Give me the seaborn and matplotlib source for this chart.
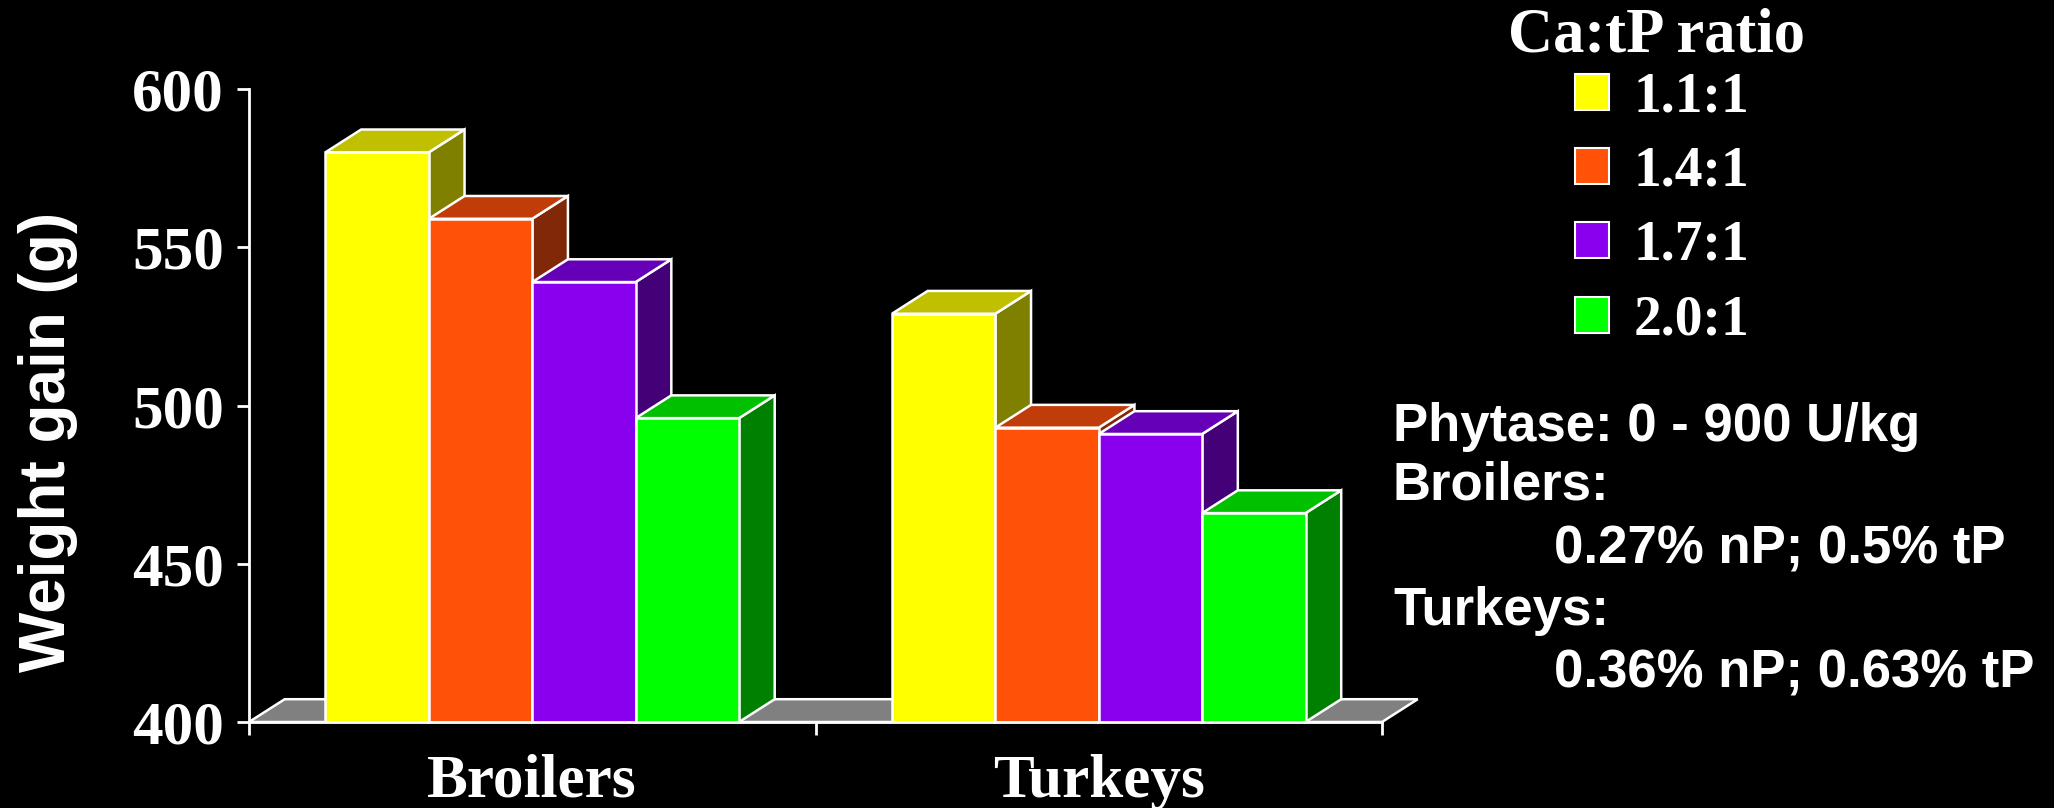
import matplotlib
matplotlib.use("Agg")
import matplotlib.pyplot as plt
import seaborn as sns
import pandas as pd
from matplotlib.patches import Polygon, Patch

# data
groups = ["Broilers", "Turkeys"]
ratios = ["1.1:1", "1.4:1", "1.7:1", "2.0:1"]
broilers_gain = [580, 559, 539, 496]
turkeys_gain = [529, 493, 491, 466]

front_colors = ["#FFFF00", "#FF5208", "#8800EE", "#00FF00"]
top_colors = ["#C0C000", "#C03C08", "#6600B8", "#00C000"]
side_colors = ["#808000", "#802808", "#440077", "#008000"]

notes = [
    ("Phytase: 0 - 900 U/kg", 0),
    ("Broilers:", 0),
    ("0.27% nP; 0.5% tP", 1),
    ("Turkeys:", 0),
    ("0.36% nP; 0.63% tP", 1),
]

df = pd.DataFrame({
    "group": [g for g in groups for _ in ratios],
    "ratio": ratios * len(groups),
    "gain": broilers_gain + turkeys_gain,
})

sns.set_style("dark")
plt.rcParams["font.family"] = ["Liberation Serif", "DejaVu Serif"]

fig = plt.figure(figsize=(20.54, 8.08), dpi=100, facecolor="black")
ax = fig.add_axes([249 / 2054, 86 / 808, 1133 / 2054, 633 / 808])
ax.set_facecolor("black")

sns.barplot(data=df, x="group", y="gain", hue="ratio", palette=front_colors,
            width=0.73, edgecolor="white", linewidth=1.8, legend=False,
            saturation=1, ax=ax)

ax.set_xlim(-0.5, 1.5)
ax.set_ylim(400, 600)

# fake 3D depth (data units)
dx, dy = 0.063, 7.2
ymin = 400

bars = sorted(ax.patches, key=lambda p: p.get_x())

floor = Polygon([(-0.5, ymin), (-0.5 + dx, ymin + dy), (1.5 + dx, ymin + dy), (1.5, ymin)],
                closed=True, facecolor="#808080", edgecolor="white", lw=1.8,
                zorder=1, clip_on=False)
ax.add_patch(floor)

for k, bar in enumerate(bars):
    x0, w, h = bar.get_x(), bar.get_width(), bar.get_height()
    ci = k % len(ratios)
    side = Polygon([(x0 + w, ymin), (x0 + w + dx, ymin + dy), (x0 + w + dx, h + dy), (x0 + w, h)],
                   closed=True, facecolor=side_colors[ci], edgecolor="white", lw=1.8,
                   zorder=2 + 2 * k, clip_on=False)
    top = Polygon([(x0, h), (x0 + dx, h + dy), (x0 + w + dx, h + dy), (x0 + w, h)],
                  closed=True, facecolor=top_colors[ci], edgecolor="white", lw=1.8,
                  zorder=2 + 2 * k, clip_on=False)
    ax.add_patch(side)
    ax.add_patch(top)
    bar.set_zorder(3 + 2 * k)

for s in ["top", "right"]:
    ax.spines[s].set_visible(False)
for s in ["left", "bottom"]:
    ax.spines[s].set_color("white")
    ax.spines[s].set_linewidth(2)
    ax.spines[s].set_zorder(50)

ax.set_yticks([400, 450, 500, 550, 600])
ax.tick_params(axis="y", colors="white", length=9, width=2, pad=9,
               labelsize=44, direction="out", left=True)
for t in ax.get_yticklabels():
    t.set_fontweight("bold")

ax.set_xticks([0, 1])
ax.set_xticklabels(groups, fontsize=44, fontweight="bold", color="white")
ax.tick_params(axis="x", length=0, pad=23, bottom=True)
ax.set_xticks([-0.5, 0.5, 1.5], minor=True)
ax.tick_params(axis="x", which="minor", length=9, width=2, colors="white", bottom=True)

ax.set_xlabel("")
ax.set_ylabel("Weight gain (g)", fontsize=46, fontweight="bold", color="white",
              family=["Liberation Sans", "DejaVu Sans"])
ax.yaxis.label.set_va("center")
ax.yaxis.set_label_coords(-0.177, 0.442)
ax.grid(False)

# legend title as separate text so the rows can sit closer to it
fig.text(1657 / 2054, 1 - 51 / 808, "Ca:tP ratio", color="white", fontsize=45,
         fontweight="bold", ha="center", va="baseline")
handles = [Patch(facecolor=c, edgecolor="white", lw=1.5) for c in front_colors]
leg = fig.legend(handles, ratios, loc="upper left",
                 bbox_to_anchor=(1569 / 2054, 1 - 66 / 808), frameon=False,
                 prop={"family": ["Liberation Serif"], "weight": "bold", "size": 40},
                 handlelength=0.62, handleheight=0.62, handletextpad=0.45,
                 labelspacing=0.40, borderaxespad=0, borderpad=0.1)
for t in leg.get_texts():
    t.set_color("white")

baselines = [441, 499, 564, 625, 688]
for (txt, indent), yb in zip(notes, baselines):
    xs = 1554 if indent else 1393
    fig.text(xs / 2054, 1 - yb / 808, txt, color="white", fontsize=38,
             fontweight="bold", family=["Liberation Sans", "DejaVu Sans"],
             ha="left", va="baseline")

fig.savefig("out.png", dpi=100, facecolor="black")
